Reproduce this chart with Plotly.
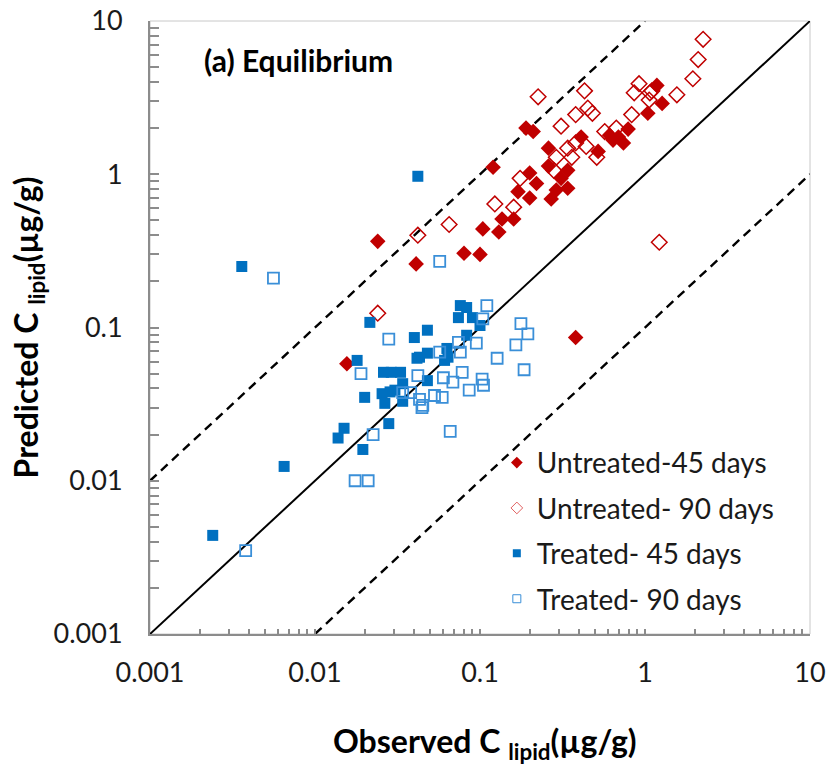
import plotly.graph_objects as go

# ---------------- data (observed, predicted) in µg/g ----------------
untreated45_obs = [1.18, 1.27, 1.04, 0.79, 0.19, 0.21, 0.41, 0.61, 0.64, 0.69, 0.74, 0.26, 0.52,
                   0.26, 0.34, 0.12, 0.20, 0.22, 0.31, 0.34, 0.29, 0.27, 0.17, 0.20, 0.104, 0.13,
                   0.136, 0.16, 0.10, 0.080, 0.024, 0.041, 0.0156, 0.38]
untreated45_pred = [3.8, 2.9, 2.5, 1.97, 2.0, 1.9, 1.75, 1.8, 1.67, 1.75, 1.6, 1.48, 1.41,
                    1.13, 1.06, 1.11, 1.02, 0.87, 0.94, 0.81, 0.79, 0.69, 0.77, 0.70, 0.44, 0.42,
                    0.51, 0.51, 0.30, 0.305, 0.365, 0.26, 0.058, 0.086]

untreated90_obs = [2.25, 2.1, 1.95, 1.56, 0.92, 0.86, 1.10, 1.07, 1.06, 0.225, 0.43, 0.45, 0.48,
                   0.38, 0.83, 0.31, 0.57, 0.67, 0.34, 0.38, 0.44, 0.29, 0.36, 0.51, 0.28, 0.175,
                   0.123, 0.16, 1.22, 0.065, 0.042, 0.024]
untreated90_pred = [7.6, 5.6, 4.2, 3.3, 3.9, 3.4, 3.5, 3.4, 3.05, 3.2, 3.5, 2.7, 2.5,
                    2.45, 2.45, 2.06, 1.9, 2.0, 1.48, 1.6, 1.52, 1.29, 1.29, 1.29, 1.06, 0.94,
                    0.64, 0.61, 0.36, 0.47, 0.40, 0.124]

treated45_obs = [0.042, 0.0036, 0.0215, 0.040, 0.048, 0.076, 0.083, 0.074, 0.090, 0.10, 0.083,
                 0.063, 0.064, 0.061, 0.043, 0.048, 0.0415, 0.018, 0.026, 0.029, 0.033, 0.034,
                 0.048, 0.0255, 0.0285, 0.0305, 0.0265, 0.034, 0.020, 0.028, 0.015, 0.0138,
                 0.0195, 0.0065, 0.0024]
treated45_pred = [0.97, 0.25, 0.108, 0.086, 0.096, 0.139, 0.135, 0.116, 0.116, 0.103, 0.089,
                  0.073, 0.064, 0.061, 0.064, 0.068, 0.063, 0.061, 0.051, 0.051, 0.051, 0.043,
                  0.045, 0.037, 0.038, 0.039, 0.032, 0.033, 0.035, 0.0236, 0.022, 0.019,
                  0.016, 0.0124, 0.0044]

treated90_obs = [0.0056, 0.0038, 0.057, 0.028, 0.019, 0.0225, 0.0175, 0.021, 0.066, 0.042, 0.060,
                 0.0685, 0.078, 0.086, 0.074, 0.095, 0.057, 0.076, 0.127, 0.165, 0.103, 0.105,
                 0.034, 0.038, 0.043, 0.045, 0.0445, 0.053, 0.059, 0.11, 0.104, 0.177, 0.195, 0.185]
treated90_pred = [0.21, 0.0035, 0.27, 0.084, 0.050, 0.020, 0.010, 0.010, 0.021, 0.0485, 0.047,
                  0.044, 0.051, 0.039, 0.080, 0.079, 0.069, 0.069, 0.063, 0.077, 0.046, 0.042,
                  0.0376, 0.0376, 0.034, 0.031, 0.030, 0.036, 0.035, 0.139, 0.114, 0.106, 0.091, 0.053]

series_names = ["Untreated-45 days", "Untreated- 90 days", "Treated- 45 days", "Treated- 90 days"]

axis_range = [0.001, 10]
fold_factor = 10
major_ticks = [0.001, 0.01, 0.1, 1, 10]
major_labels = ["0.001", "0.01", "0.1", "1", "10"]
minor_ticks = [m * d for d in [0.001, 0.01, 0.1, 1] for m in range(2, 10)]

RED = "#C00000"
BLUE = "#0070C0"
BLUE_OPEN = "#3A8FD8"
AXIS_GREY = "#8C8C8C"
FONT = "Lato"

fig = go.Figure()

# reference lines: 1:1 and factor-of-10 bounds
fig.add_trace(go.Scatter(x=axis_range, y=axis_range, mode="lines",
                         line=dict(color="black", width=2), showlegend=False, hoverinfo="skip"))
fig.add_trace(go.Scatter(x=[axis_range[0], axis_range[1] / fold_factor],
                         y=[axis_range[0] * fold_factor, axis_range[1]], mode="lines",
                         line=dict(color="black", width=2.4, dash="9px,6px"), showlegend=False, hoverinfo="skip"))
fig.add_trace(go.Scatter(x=[axis_range[0] * fold_factor, axis_range[1]],
                         y=[axis_range[0], axis_range[1] / fold_factor], mode="lines",
                         line=dict(color="black", width=2.4, dash="9px,6px"), showlegend=False, hoverinfo="skip"))

styles = [
    dict(symbol="diamond", size=12, color=RED, line=dict(width=0)),
    dict(symbol="diamond-open", size=12, color=RED, line=dict(width=1.5, color=RED)),
    dict(symbol="square", size=11, color=BLUE, line=dict(width=0)),
    dict(symbol="square-open", size=11, color=BLUE_OPEN, line=dict(width=1.8, color=BLUE_OPEN)),
]
legend_styles = [
    dict(symbol="diamond", size=9, color=RED, line=dict(width=0)),
    dict(symbol="diamond-open", size=9, color="#E06060", line=dict(width=1, color="#E06060")),
    dict(symbol="square", size=8, color=BLUE, line=dict(width=0)),
    dict(symbol="square-open", size=8, color=BLUE_OPEN, line=dict(width=1, color=BLUE_OPEN)),
]
data = [(untreated45_obs, untreated45_pred), (untreated90_obs, untreated90_pred),
        (treated45_obs, treated45_pred), (treated90_obs, treated90_pred)]

for (xs, ys), st in zip(data, styles):
    fig.add_trace(go.Scatter(x=xs, y=ys, mode="markers", marker=st, showlegend=False))

for name, st in zip(series_names, legend_styles):
    fig.add_trace(go.Scatter(x=[None], y=[None], mode="markers", marker=st, name=name,
                             legendgroup=name, showlegend=True))

all_ticks = major_ticks + minor_ticks
all_labels = major_labels + [""] * len(minor_ticks)

axis_common = dict(
    type="log", range=[-3, 1], showgrid=False, zeroline=False, automargin=False,
    showline=True, linecolor=AXIS_GREY, linewidth=2,
    tickmode="array", tickvals=all_ticks, ticktext=all_labels,
    ticks="inside", tickcolor=AXIS_GREY, tickwidth=1.5,
    tickfont=dict(family=FONT, size=27, color="#1a1a1a"),
)

fig.update_xaxes(**axis_common)
fig.update_xaxes(ticklen=5, ticklabelstandoff=14)
fig.update_yaxes(**axis_common)
fig.update_yaxes(ticklen=9, ticklabelstandoff=20)

fig.update_layout(
    width=829, height=764,
    margin=dict(l=150, r=19, t=21, b=130),
    paper_bgcolor="white", plot_bgcolor="white",
    font=dict(family=FONT, color="#1a1a1a"),
    showlegend=True,
    legend=dict(x=0.5255, y=0.32, xanchor="left", yanchor="top",
                bgcolor="rgba(0,0,0,0)", font=dict(family=FONT, size=28, color="#1a1a1a"),
                traceorder="grouped", tracegroupgap=6, itemwidth=30),
    shapes=[dict(type="rect", xref="paper", yref="paper", x0=0, y0=0, x1=1, y1=1,
                 line=dict(color="#C8C8C8", width=1), layer="below")],
    annotations=[
        dict(text="<b>(a) Equilibrium</b>", xref="paper", yref="paper", x=0.079, y=0.936,
             xanchor="left", yanchor="middle", showarrow=False,
             font=dict(family=FONT, size=30, color="black")),
        dict(text="<b>Observed C <sub>lipid</sub>(µg/g)</b>", xref="paper", yref="paper",
             x=0.508, y=-0.178, xanchor="center", yanchor="middle", showarrow=False,
             font=dict(family=FONT, size=32, color="black")),
        dict(text="<b>Predicted C <sub>lipid</sub>(µg/g)</b>", xref="paper", yref="paper",
             x=-0.185, y=0.5, xanchor="center", yanchor="middle", showarrow=False, textangle=-90,
             font=dict(family=FONT, size=32, color="black")),
    ],
)

fig.write_html("out.html", config={"displayModeBar": False},
               post_script="document.body.style.margin='0';")
